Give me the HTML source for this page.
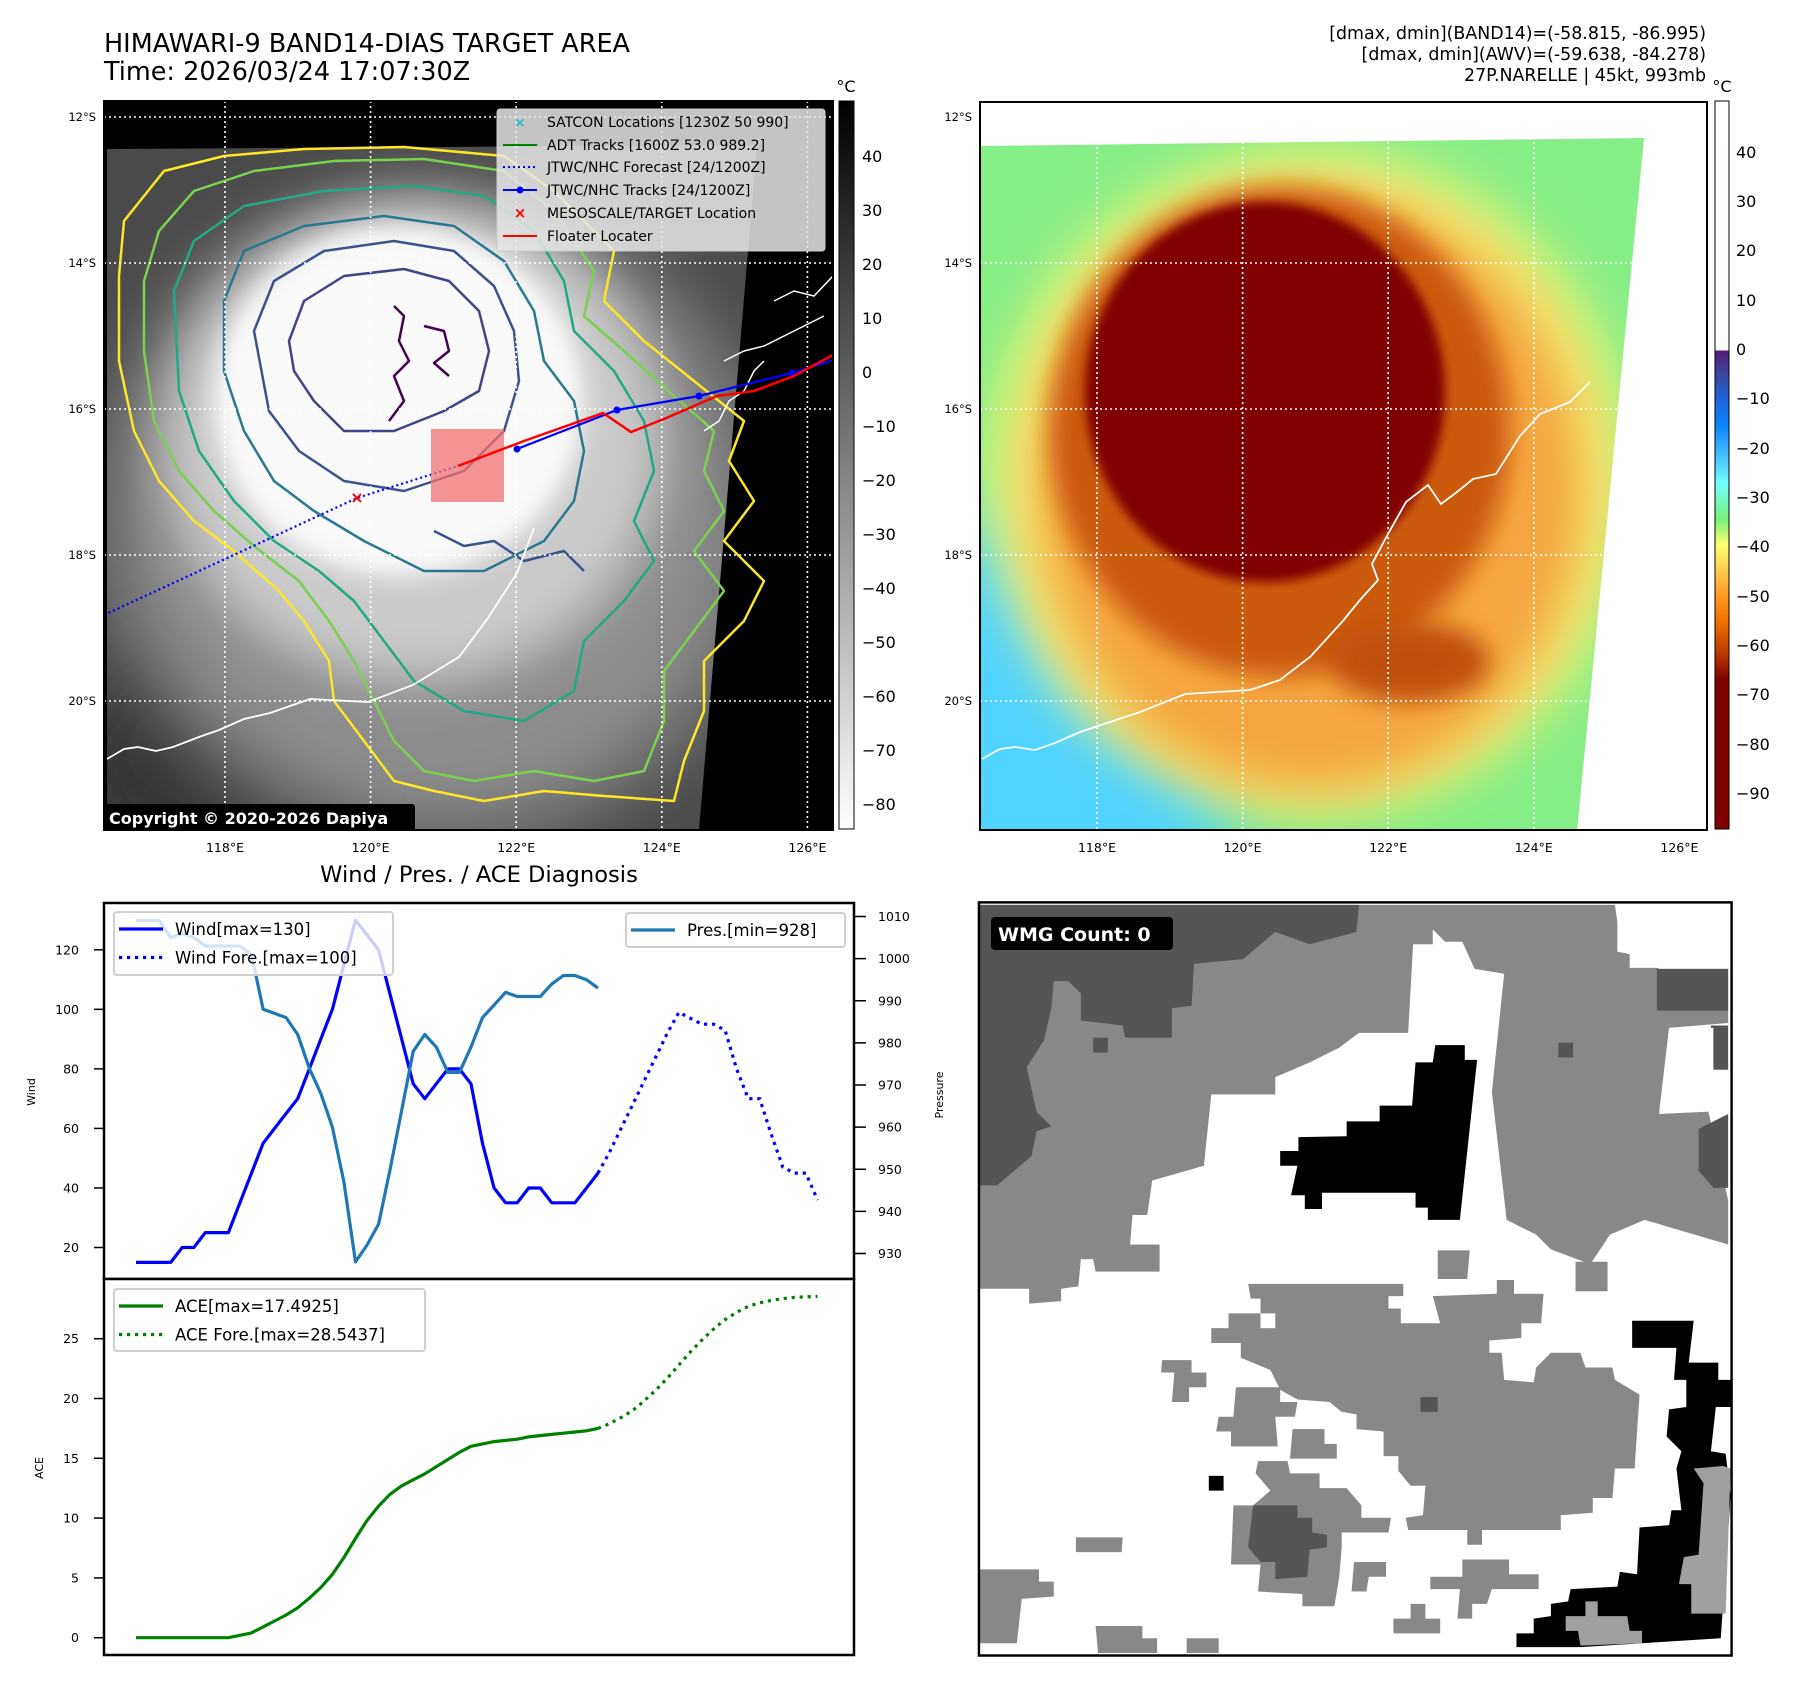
<!DOCTYPE html>
<html><head><meta charset="utf-8">
<style>
html,body{margin:0;padding:0;background:#fff;}
svg{display:block;font-family:"DejaVu Sans","Liberation Sans",sans-serif;}
</style></head>
<body>
<svg id="fig" width="1797" height="1690" viewBox="0 0 1797 1690" xmlns="http://www.w3.org/2000/svg">
<defs>
  <clipPath id="clipL"><rect x="0" y="0" width="729" height="729"/></clipPath>
  <clipPath id="clipR"><rect x="0" y="0" width="727" height="728"/></clipPath>
  <clipPath id="swathL"><polygon points="3,48 653,44 595,729 3,729"/></clipPath>
  <clipPath id="swathR"><polygon points="0,44 664,36 597,729 0,729"/></clipPath>
  <filter id="b40" x="-50%" y="-50%" width="200%" height="200%"><feGaussianBlur stdDeviation="40"/></filter>
  <filter id="b25" x="-50%" y="-50%" width="200%" height="200%"><feGaussianBlur stdDeviation="25"/></filter>
  <filter id="b12" x="-50%" y="-50%" width="200%" height="200%"><feGaussianBlur stdDeviation="12"/></filter>
  <filter id="b5" x="-50%" y="-50%" width="200%" height="200%"><feGaussianBlur stdDeviation="5"/></filter>
  <linearGradient id="cbL" x1="0" y1="0" x2="0" y2="1">
    <stop offset="0" stop-color="#000"/><stop offset="1" stop-color="#fff"/>
  </linearGradient>
  <linearGradient id="cbR" x1="0" y1="0" x2="0" y2="1">
    <stop offset="0" stop-color="#fff"/>
    <stop offset="0.3424" stop-color="#fdfdfd"/>
    <stop offset="0.3425" stop-color="#5a1a78"/>
    <stop offset="0.376" stop-color="#3a48a0"/>
    <stop offset="0.41" stop-color="#1e64d8"/>
    <stop offset="0.445" stop-color="#0a84ff"/>
    <stop offset="0.49" stop-color="#48c4ff"/>
    <stop offset="0.525" stop-color="#70ffff"/>
    <stop offset="0.575" stop-color="#78f078"/>
    <stop offset="0.61" stop-color="#ffff70"/>
    <stop offset="0.645" stop-color="#ffcc50"/>
    <stop offset="0.68" stop-color="#ff9a20"/>
    <stop offset="0.715" stop-color="#f07000"/>
    <stop offset="0.76" stop-color="#b83800"/>
    <stop offset="0.795" stop-color="#800000"/>
    <stop offset="1" stop-color="#800000"/>
  </linearGradient>
</defs>

<text x="104" y="52" font-size="25.5" fill="#000">HIMAWARI-9 BAND14-DIAS TARGET AREA</text>
<text x="104" y="80" font-size="25.5" fill="#000">Time: 2026/03/24 17:07:30Z</text>
<g font-size="17.4" text-anchor="end" fill="#000">
  <text x="1706" y="39">[dmax, dmin](BAND14)=(-58.815, -86.995)</text>
  <text x="1706" y="60">[dmax, dmin](AWV)=(-59.638, -84.278)</text>
  <text x="1706" y="81">27P.NARELLE | 45kt, 993mb</text>
</g>

<g transform="translate(104,101)">
  <g clip-path="url(#clipL)">
    <rect width="729" height="729" fill="#000"/>
    <g clip-path="url(#swathL)">
      <rect width="729" height="729" fill="#4a4a4a"/>
      <ellipse cx="120" cy="650" rx="160" ry="120" fill="#333" filter="url(#b40)"/>
      <ellipse cx="330" cy="420" rx="330" ry="320" fill="#8c8c8c" filter="url(#b40)"/>
      <ellipse cx="310" cy="340" rx="250" ry="240" fill="#cacaca" filter="url(#b25)"/>
      <ellipse cx="295" cy="300" rx="185" ry="175" fill="#fafafa" filter="url(#b12)"/>
    </g>
    <g fill="none" stroke-width="2.5" stroke-linejoin="round">
      <path stroke="#fde725" d="M15,175 L20,120 L60,70 L120,55 L200,48 L300,46 L400,55 L450,90 L510,150 L500,200 L540,240 L590,280 L640,320 L625,360 L650,400 L620,440 L660,480 L640,520 L600,560 L600,610 L580,660 L570,700 L500,695 L440,690 L380,700 L330,690 L290,680 L260,640 L230,600 L225,560 L200,520 L175,490 L130,450 L90,420 L55,380 L30,330 L15,260 Z"/>
      <path stroke="#7ad151" d="M40,180 L55,130 L90,90 L150,70 L230,60 L320,58 L400,70 L450,110 L490,170 L480,215 L520,250 L570,295 L610,330 L600,370 L620,410 L590,450 L620,490 L590,530 L560,570 L560,620 L540,670 L490,680 L430,670 L370,680 L320,670 L290,640 L270,600 L250,560 L225,520 L195,480 L150,445 L110,410 L75,370 L50,320 L40,250 Z"/>
      <path stroke="#22a884" d="M70,190 L90,140 L140,105 L220,90 L310,85 L380,95 L430,130 L460,180 L470,230 L510,270 L540,320 L550,370 L530,420 L550,460 L520,500 L480,540 L470,590 L420,620 L360,610 L310,580 L280,540 L250,500 L215,470 L170,440 L130,400 L95,350 L75,290 Z"/>
      <path stroke="#2a788e" d="M120,200 L140,150 L200,125 L280,115 L350,125 L400,160 L430,210 L440,260 L470,300 L480,350 L470,400 L440,440 L380,470 L320,470 L260,440 L210,410 L170,380 L140,330 L120,270 Z"/>
      <path stroke="#3b528b" d="M150,230 L170,180 L220,150 L290,140 L350,150 L390,185 L410,230 L415,280 L400,330 L360,370 L300,390 L240,380 L195,350 L165,310 Z"/>
      <path stroke="#414487" d="M185,240 L200,200 L240,175 L300,168 L345,180 L375,210 L385,250 L375,290 L340,310 L290,330 L240,330 L210,300 L190,270 Z"/>
      <path stroke="#440154" d="M290,205 L300,215 L295,240 L305,260 L290,275 L300,300 L285,320 M320,225 L340,230 L345,250 L330,262 L345,275"/>
      <path stroke="#3b528b" d="M330,430 L360,445 L390,440 L420,460 L460,450 L480,470"/>
    </g>
    <g stroke="#fff" stroke-width="1.6" stroke-dasharray="2 3">
      <line x1="121" y1="0" x2="121" y2="729"/><line x1="266.6" y1="0" x2="266.6" y2="729"/><line x1="412.2" y1="0" x2="412.2" y2="729"/><line x1="557.8" y1="0" x2="557.8" y2="729"/><line x1="703.4" y1="0" x2="703.4" y2="729"/>
      <line x1="0" y1="16" x2="729" y2="16"/><line x1="0" y1="162" x2="729" y2="162"/><line x1="0" y1="308" x2="729" y2="308"/><line x1="0" y1="454" x2="729" y2="454"/><line x1="0" y1="600" x2="729" y2="600"/>
    </g>
    <path fill="none" stroke="#fff" stroke-width="1.8" d="M3,658 L20,648 L34,646 L52,650 L69,646 L95,636 L115,629 L140,618 L166,612 L206,598 L264,601 L309,584 L355,556 L384,517 L413,472 L430,427"/>
    <path fill="none" stroke="#fff" stroke-width="1.5" d="M600,330 L615,320 L625,300 L640,290 L650,270 L660,260 M620,260 L640,250 L660,245 L690,230 L720,215 M670,200 L690,190 L710,195 L729,175"/>
    <polyline points="0,514 253,397 354,365" fill="none" stroke="#0000ff" stroke-width="2.2" stroke-dasharray="2 3"/>
    <rect x="327" y="328" width="73" height="73" fill="#f07070" fill-opacity="0.75"/>
    <polyline points="413,348 513,309 595,295 688,272 729,259" fill="none" stroke="#0000ff" stroke-width="2.2"/>
    <g fill="#0000ff"><circle cx="413" cy="348" r="3.5"/><circle cx="513" cy="309" r="3.5"/><circle cx="595" cy="295" r="3.5"/><circle cx="688" cy="272" r="3.5"/></g>
    <polyline points="354,365 420,340 499,312 527,331 560,318 613,295 650,290 690,275 729,254" fill="none" stroke="#ff0000" stroke-width="2.5"/>
    <text x="253" y="402" font-size="16" font-weight="bold" fill="#ff0000" text-anchor="middle">×</text>
    <g>
      <rect x="393" y="8" width="328" height="142" rx="3" fill="#e6e6e6" fill-opacity="0.85" stroke="#ccc"/>
      <g font-size="14" fill="#000">
        <text x="416" y="26" fill="#17becf" font-weight="bold" text-anchor="middle" font-size="13">×</text>
        <text x="443" y="26">SATCON Locations [1230Z 50 990]</text>
        <line x1="399" y1="44" x2="433" y2="44" stroke="#008000" stroke-width="2"/>
        <text x="443" y="49">ADT Tracks [1600Z 53.0 989.2]</text>
        <line x1="399" y1="66" x2="433" y2="66" stroke="#0000ff" stroke-width="2" stroke-dasharray="2 3"/>
        <text x="443" y="71">JTWC/NHC Forecast [24/1200Z]</text>
        <line x1="399" y1="89" x2="433" y2="89" stroke="#0000ff" stroke-width="2"/><circle cx="416" cy="89" r="3.5" fill="#0000ff"/>
        <text x="443" y="94">JTWC/NHC Tracks [24/1200Z]</text>
        <text x="416" y="117" fill="#ff0000" font-weight="bold" text-anchor="middle" font-size="15">×</text>
        <text x="443" y="117">MESOSCALE/TARGET Location</text>
        <line x1="399" y1="135" x2="433" y2="135" stroke="#ff0000" stroke-width="2"/>
        <text x="443" y="140">Floater Locater</text>
      </g>
    </g>
    <rect x="-2" y="703" width="313" height="28" rx="3" fill="#000"/>
    <text x="5" y="723" font-size="16" font-weight="bold" fill="#fff">Copyright © 2020-2026 Dapiya</text>
  </g>
  <rect width="729" height="729" fill="none" stroke="#000" stroke-width="2"/>
</g>
<g font-size="11.5" text-anchor="end" fill="#000">
  <text x="96" y="121">12°S</text><text x="96" y="267">14°S</text><text x="96" y="413">16°S</text><text x="96" y="559">18°S</text><text x="96" y="705">20°S</text>
</g>
<g font-size="12.5" text-anchor="middle" fill="#000">
  <text x="225" y="852">118°E</text><text x="370.6" y="852">120°E</text><text x="516.2" y="852">122°E</text><text x="661.8" y="852">124°E</text><text x="807.4" y="852">126°E</text>
</g>
<g>
  <rect x="839" y="101" width="15" height="728" fill="url(#cbL)" stroke="#000" stroke-width="1"/>
  <text x="846" y="92" font-size="16" text-anchor="middle">°C</text>
  <g font-size="16" fill="#000">
    <text x="862" y="162">40</text><text x="862" y="216">30</text><text x="862" y="270">20</text><text x="862" y="324">10</text><text x="862" y="378">0</text>
    <text x="862" y="432">−10</text><text x="862" y="486">−20</text><text x="862" y="540">−30</text><text x="862" y="594">−40</text><text x="862" y="648">−50</text><text x="862" y="702">−60</text><text x="862" y="756">−70</text><text x="862" y="810">−80</text>
  </g>
</g>

<g transform="translate(980,102)">
  <g clip-path="url(#clipR)">
    <rect width="727" height="728" fill="#fff"/>
    <g clip-path="url(#swathR)">
      <rect width="727" height="728" fill="#86ee86"/>
      <ellipse cx="20" cy="720" rx="230" ry="300" fill="#50d4ff" filter="url(#b40)"/>
      <ellipse cx="330" cy="380" rx="320" ry="330" fill="#f2f074" filter="url(#b25)"/>
      <ellipse cx="330" cy="390" rx="275" ry="300" fill="#f4a640" filter="url(#b25)"/>
      <ellipse cx="300" cy="330" rx="230" ry="245" fill="#cc5a10" filter="url(#b12)"/>
      <ellipse cx="285" cy="290" rx="180" ry="190" fill="#800000" filter="url(#b5)"/>
      <ellipse cx="430" cy="560" rx="80" ry="40" fill="#c05010" filter="url(#b12)"/>
    </g>
    <g stroke="#fff" stroke-width="1.6" stroke-dasharray="2 3">
      <line x1="117" y1="0" x2="117" y2="728"/><line x1="262.6" y1="0" x2="262.6" y2="728"/><line x1="408.2" y1="0" x2="408.2" y2="728"/><line x1="553.8" y1="0" x2="553.8" y2="728"/><line x1="699.4" y1="0" x2="699.4" y2="728"/>
      <line x1="0" y1="15" x2="727" y2="15"/><line x1="0" y1="161" x2="727" y2="161"/><line x1="0" y1="307" x2="727" y2="307"/><line x1="0" y1="453" x2="727" y2="453"/><line x1="0" y1="599" x2="727" y2="599"/>
    </g>
    <path fill="none" stroke="#fff" stroke-width="1.8" d="M2,657 L20,647 L35,645 L55,648 L75,641 L100,630 L130,620 L160,610 L205,592 L270,588 L300,578 L330,555 L362,520 L380,498 L398,478 L392,462 L408,432 L426,400 L448,383 L461,402 L477,390 L493,377 L516,372 L540,334 L560,312 L590,300 L610,280"/>
  </g>
  <rect width="727" height="728" fill="none" stroke="#000" stroke-width="2"/>
</g>
<g font-size="11.5" text-anchor="end" fill="#000">
  <text x="972" y="121">12°S</text><text x="972" y="267">14°S</text><text x="972" y="413">16°S</text><text x="972" y="559">18°S</text><text x="972" y="705">20°S</text>
</g>
<g font-size="12.5" text-anchor="middle" fill="#000">
  <text x="1097" y="852">118°E</text><text x="1242.6" y="852">120°E</text><text x="1388.2" y="852">122°E</text><text x="1533.8" y="852">124°E</text><text x="1679.4" y="852">126°E</text>
</g>
<g>
  <rect x="1715" y="101" width="14" height="728" fill="url(#cbR)" stroke="#000" stroke-width="1"/>
  <text x="1722" y="92" font-size="16" text-anchor="middle">°C</text>
  <g font-size="16" fill="#000">
    <text x="1736" y="158">40</text><text x="1736" y="207">30</text><text x="1736" y="256">20</text><text x="1736" y="306">10</text><text x="1736" y="355">0</text>
    <text x="1736" y="404">−10</text><text x="1736" y="454">−20</text><text x="1736" y="503">−30</text><text x="1736" y="552">−40</text><text x="1736" y="602">−50</text><text x="1736" y="651">−60</text><text x="1736" y="700">−70</text><text x="1736" y="750">−80</text><text x="1736" y="799">−90</text>
  </g>
</g>

<g>
<svg x="975" y="895" width="762" height="762" viewBox="0 0 1548 1548" preserveAspectRatio="none">
  <rect x="8" y="15" width="1529" height="1530" fill="#fff"/>
  <polygon fill="#888" points="10,20 1300,20 1310,90 1330,120 1390,150 1530,150 1530,260 1410,270 1390,440 1490,440 1530,620 1530,710 1360,660 1290,690 1250,750 1170,720 1140,690 1080,660 1050,400 1075,160 1015,150 990,95 955,95 930,70 930,100 890,100 880,280 780,280 740,310 680,340 610,370 610,405 480,405 465,550 360,580 350,650 320,650 315,710 375,710 375,765 245,765 240,740 215,740 210,795 175,800 175,825 110,830 110,800 10,800"/>
  <polygon fill="#555" points="10,20 780,20 775,75 680,100 610,75 545,130 445,140 440,225 400,230 400,290 305,290 300,265 215,255 215,200 190,175 160,175 155,230 140,295 105,350 125,440 155,470 125,480 115,530 80,560 45,590 10,590"/>
  <polygon fill="#555" points="1385,150 1530,150 1530,235 1385,235"/>
  <polygon fill="#555" points="1495,265 1530,265 1530,355 1495,355"/>
  <polygon fill="#555" points="1470,475 1530,445 1530,595 1500,595 1470,560"/>
  <polygon fill="#fff" points="1305,35 1535,35 1535,148 1490,148 1490,120 1425,120 1425,148 1330,148 1330,120 1305,115"/>
  <polygon fill="#fff" points="1410,270 1500,270 1500,385 1535,385 1535,415 1490,415 1490,440 1390,445"/>
  <polygon fill="#000" points="935,305 995,305 995,335 1020,335 985,660 920,660 920,635 895,635 895,605 705,605 705,638 670,638 670,610 642,610 655,550 620,550 620,520 657,520 657,492 755,490 755,460 822,460 822,428 888,428 895,340 930,340"/>
  <g fill="#888">
    <polygon points="555,790 870,790 870,815 840,815 840,840 865,840 865,870 945,870 930,815 1060,810 1060,782 1095,782 1095,810 1155,810 1150,870 1110,870 1110,900 1045,905 1045,930 1070,930 1075,985 1135,990 1140,960 1170,930 1230,930 1240,960 1295,960 1300,985 1350,1015 1340,1165 1300,1165 1295,1225 1255,1225 1255,1255 1190,1260 1190,1290 1030,1290 1030,1320 1000,1320 1000,1290 880,1290 875,1265 910,1260 915,1200 885,1200 860,1170 860,1140 830,1140 830,1090 775,1085 775,1055 745,1050 720,1030 655,1025 620,1005 600,965 540,940 540,910 480,910 480,880 515,880 515,850 580,850 580,820 560,820"/>
    <polygon points="380,945 440,945 440,970 470,970 470,1000 435,1000 435,1030 400,1030 405,970 378,970"/>
    <polygon points="530,1000 620,1000 620,1030 655,1030 650,1060 610,1060 615,1120 520,1120 520,1090 490,1090 495,1060 525,1060"/>
    <polygon points="645,1085 710,1085 710,1115 735,1115 735,1145 640,1145"/>
    <polygon points="575,1150 635,1150 640,1175 700,1175 700,1205 755,1205 785,1240 785,1265 845,1265 840,1295 745,1295 745,1325 740,1385 730,1445 665,1445 665,1420 575,1415 580,1360 520,1360 525,1240 565,1240 600,1210 570,1175"/>
    <polygon points="205,1305 300,1305 298,1335 205,1335"/>
    <polygon points="770,1355 835,1355 835,1385 800,1385 795,1415 765,1415"/>
    <polygon points="990,1350 1085,1350 1085,1380 1145,1380 1145,1410 1050,1410 1040,1440 1010,1440 1010,1470 980,1470 985,1410 925,1410 925,1385 990,1385"/>
    <polygon points="885,1440 915,1440 915,1470 945,1470 945,1500 850,1500 850,1470 885,1470"/>
    <polygon points="10,1370 130,1370 130,1395 160,1395 160,1425 95,1430 85,1520 10,1520"/>
    <polygon points="245,1485 340,1485 340,1510 370,1510 370,1540 250,1540"/>
    <polygon points="430,1510 495,1510 495,1540 430,1540"/>
    <polygon points="940,722 1005,722 1000,780 940,780"/>
    <polygon points="1220,745 1285,745 1285,805 1220,805"/>
  </g>
  <polygon fill="#fff" points="580,850 610,850 610,880 580,880"/>
  <g fill="#555">
    <polygon points="565,1240 655,1240 655,1265 685,1265 685,1295 715,1300 715,1325 680,1330 675,1385 610,1390 610,1355 580,1355 555,1325"/>
    <rect x="905" y="1020" width="35" height="30"/><rect x="1185" y="300" width="30" height="30"/><rect x="240" y="290" width="30" height="30"/>
  </g>
  <rect x="475" y="1180" width="30" height="30" fill="#000"/>
  <polygon fill="#000" points="1335,865 1460,865 1450,950 1510,950 1510,985 1535,985 1535,1040 1505,1040 1495,1130 1525,1135 1535,1220 1515,1510 1355,1520 1230,1528 1100,1528 1100,1500 1135,1500 1135,1470 1170,1465 1170,1440 1205,1435 1210,1410 1305,1405 1310,1375 1345,1380 1350,1285 1410,1280 1415,1250 1435,1250 1425,1165 1435,1130 1405,1100 1410,1045 1445,1040 1445,985 1420,985 1425,920 1335,920"/>
  <polygon fill="#a0a0a0" points="1460,1165 1520,1160 1535,1165 1525,1460 1455,1460 1455,1400 1430,1400 1440,1345 1470,1340 1480,1195"/>
  <polygon fill="#a0a0a0" points="1240,1435 1265,1435 1265,1465 1325,1465 1330,1495 1355,1495 1355,1520 1230,1525 1225,1495 1200,1495 1200,1465 1240,1465"/>
  <rect x="8" y="15" width="1529" height="1530" fill="none" stroke="#000" stroke-width="5"/>
</svg>
  <rect x="991" y="917" width="182" height="33" rx="4" fill="#000"/>
  <text x="998" y="941" font-size="19" font-weight="bold" fill="#fff">WMG Count: 0</text>
</g>

<text x="479" y="882" font-size="22.6" text-anchor="middle" fill="#000">Wind / Pres. / ACE Diagnosis</text>
<g id="chart"></g>
</svg>

<script>
const windObs = [15,15,15,15,20,20,25,25,25,35,45,55,60,65,70,80,90,100,115,130,125,120,105,90,75,70,75,80,80,75,55,40,35,35,40,40,35,35,35,40,45];
const windFore = [45,52,60,68,76,84,92,99,97,95,95,93,80,70,70,58,47,45,45,36];
const presObs = [1009,1009,1009,1005,1006,1005,1003,1003,1003,1003,1001,988,987,986,982,974,968,960,947,928,932,937,950,964,978,982,979,973,973,979,986,989,992,991,991,991,994,996,996,995,993];
const aceObs = [0,0,0,0,0,0,0,0,0,0.2,0.4,0.9,1.4,1.9,2.5,3.3,4.2,5.3,6.7,8.3,9.8,11.0,12.0,12.7,13.2,13.7,14.3,14.9,15.5,16.0,16.2,16.4,16.5,16.6,16.8,16.9,17.0,17.1,17.2,17.3,17.5];
const aceFore = [17.5,17.9,18.4,19.0,19.8,20.7,21.7,22.8,23.9,24.9,25.8,26.6,27.2,27.7,28.0,28.2,28.35,28.45,28.5,28.54];
const windTicks = [20,40,60,80,100,120];
const presTicks = [930,940,950,960,970,980,990,1000,1010];
const aceTicks = [0,5,10,15,20,25];

const NS = 'http://www.w3.org/2000/svg';
const X0 = 136, DX = 11.55;
function xS(i){ return X0 + DX*i; }
function yWind(v){ return 1247.5 - (v-20)*2.977; }
function yPres(p){ return 1253.5 - (p-930)*4.2125; }
function yAce(v){ return 1637.7 - v*11.96; }

const chartG = document.getElementById('chart');
function mk(tag, attrs, parent){
  const el = document.createElementNS(NS, tag);
  for (const k in attrs) el.setAttribute(k, attrs[k]);
  (parent||chartG).appendChild(el);
  return el;
}
function pts(arr, off, yf){ return arr.map((v,i)=>xS(i+off).toFixed(1)+','+yf(v).toFixed(1)).join(' '); }

const topAx = mk('rect',{x:104,y:903,width:750,height:376,fill:'#fff',stroke:'#000','stroke-width':2.5});


const botAx = mk('rect',{x:104,y:1279,width:750,height:376,fill:'#fff',stroke:'#000','stroke-width':2.5});



windTicks.forEach(t=>{
  const y = yWind(t);
  mk('line',{x1:94,y1:y,x2:104,y2:y,stroke:'#000','stroke-width':1.5});
  const tx = mk('text',{x:79,y:y+4.5,'font-size':12.5,'text-anchor':'end'}); tx.textContent = t;
  
  
});
presTicks.forEach(t=>{
  const y = yPres(t);
  mk('line',{x1:854,y1:y,x2:866,y2:y,stroke:'#000','stroke-width':1.5});
  const tx = mk('text',{x:878,y:y+4.5,'font-size':12.5}); tx.textContent = t;
  
  
});
aceTicks.forEach(t=>{
  const y = yAce(t);
  mk('line',{x1:94,y1:y,x2:104,y2:y,stroke:'#000','stroke-width':1.5});
  const tx = mk('text',{x:79,y:y+4.5,'font-size':12.5,'text-anchor':'end'}); tx.textContent = t;
  
  
});
const yl1 = mk('text',{x:0,y:0,'font-size':11,'text-anchor':'middle',transform:'translate(35,1092) rotate(-90)'}); yl1.textContent='Wind';


const yl2 = mk('text',{x:0,y:0,'font-size':11,'text-anchor':'middle',transform:'translate(943,1095) rotate(-90)'}); yl2.textContent='Pressure';


const yl3 = mk('text',{x:0,y:0,'font-size':11,'text-anchor':'middle',transform:'translate(43,1468) rotate(-90)'}); yl3.textContent='ACE';



const w1 = mk('polyline',{points:pts(windObs,0,yWind),fill:'none',stroke:'#0000ff','stroke-width':3.2,'stroke-linejoin':'round'});


const w2 = mk('polyline',{points:pts(windFore,40,yWind),fill:'none',stroke:'#0000ff','stroke-width':3.2,'stroke-dasharray':'3.2 4.8'});


const p1 = mk('polyline',{points:pts(presObs,0,yPres),fill:'none',stroke:'#1f77b4','stroke-width':3.2,'stroke-linejoin':'round'});


const a1 = mk('polyline',{points:pts(aceObs,0,yAce),fill:'none',stroke:'#008000','stroke-width':3.2,'stroke-linejoin':'round'});


const a2 = mk('polyline',{points:pts(aceFore,40,yAce),fill:'none',stroke:'#008000','stroke-width':3.2,'stroke-dasharray':'3.2 4.8'});



function legend(name, x, y, w, h, items){
  const g = mk('g',{});
  
  
  mk('rect',{x:x,y:y,width:w,height:h,rx:3,fill:'#fff','fill-opacity':0.8,stroke:'#d0d0d0','stroke-width':2},g);
  items.forEach((it,k)=>{
    const cy = y + 17 + k*28.5;
    const la = {x1:x+5,y1:cy,x2:x+49,y2:cy,stroke:it.c,'stroke-width':3.2};
    if (it.dot) la['stroke-dasharray']='3.2 4.8';
    mk('line',la,g);
    const t = mk('text',{x:x+61,y:cy+6,'font-size':16.5},g); t.textContent = it.t;
  });
}
legend('wind-legend',114,912,279,63,[{c:'#0000ff',t:'Wind[max=130]'},{c:'#0000ff',t:'Wind Fore.[max=100]',dot:true}]);
legend('pressure-legend',626,913,219,34,[{c:'#1f77b4',t:'Pres.[min=928]'}]);
legend('ace-legend',114,1289,311,62,[{c:'#008000',t:'ACE[max=17.4925]'},{c:'#008000',t:'ACE Fore.[max=28.5437]',dot:true}]);
</script>
</body></html>
